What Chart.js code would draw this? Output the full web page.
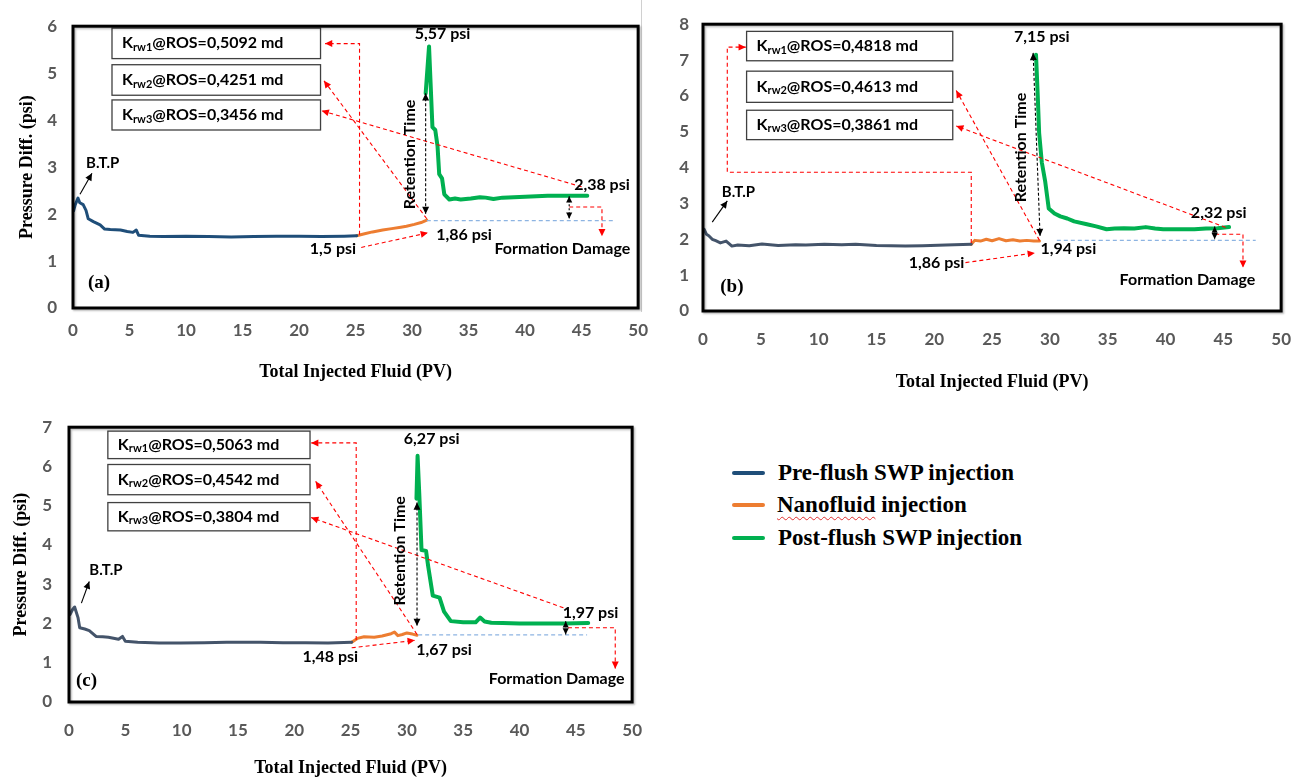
<!DOCTYPE html>
<html>
<head>
<meta charset="utf-8">
<script src="https://cdn.jsdelivr.net/npm/chart.js@4.4.1/dist/chart.umd.min.js"></script>
<style>
  body { margin: 0; background: #fff; width: 1309px; height: 779px; overflow: hidden; position: relative; }
  canvas { position: absolute; }
  .sw { position: absolute; left: 732px; width: 33px; height: 4px; border-radius: 2px; }
  .lt { position: absolute; left: 778px; font: bold 23px "Liberation Serif"; line-height: 24px; color: #000; white-space: nowrap; }
  .sq { text-decoration: underline wavy #e03030; text-decoration-thickness: 1px; text-underline-offset: 4px; }
  #sep { position: absolute; left: 641px; top: 0; width: 1px; height: 312px; background: #d0d0d0; }
</style>
</head>
<body>
<div id="sep"></div>
<canvas id="chartA" width="660" height="395" style="left:0;top:0"></canvas>
<canvas id="chartB" width="659" height="400" style="left:650px;top:0"></canvas>
<canvas id="chartC" width="660" height="379" style="left:0;top:400px"></canvas>

<div class="sw" style="top:471px;background:#1F4E79"></div>
<div class="lt" style="top:461px">Pre-flush SWP injection</div>
<div class="sw" style="top:503px;background:#ED7D31"></div>
<div class="lt" style="top:493px;left:777px"><span class="sq">Nanofluid</span> injection</div>
<div class="sw" style="top:536px;background:#00B050"></div>
<div class="lt" style="top:526px">Post-flush SWP injection</div>

<script>
// ----------------------------
// DATA  [PV, psi]
// ----------------------------
const preA = [[0.05,2.07],[0.2,2.2],[0.44,2.34],[0.6,2.24],[0.9,2.2],[1.15,2.08],[1.35,1.9],[1.8,1.84],[2.4,1.77],[2.8,1.68],[3.3,1.67],[4.2,1.66],[4.8,1.63],[5.3,1.61],[5.6,1.66],[5.8,1.55],[6.8,1.53],[8,1.52],[10,1.53],[12,1.52],[14,1.51],[16,1.52],[18,1.53],[20,1.53],[22,1.52],[24,1.53],[25.1,1.54]];
const nanoA = [[25.1,1.54],[25.8,1.58],[26.5,1.62],[27.4,1.66],[28.2,1.69],[29,1.72],[29.5,1.74],[30.2,1.78],[30.8,1.82],[31.3,1.87]];
const postA = [[31.2,4.57],[31.5,5.57],[31.8,3.85],[32.05,3.79],[32.25,3.45],[32.4,2.85],[32.65,2.76],[32.85,2.42],[33.3,2.31],[33.8,2.33],[34.3,2.31],[35.2,2.33],[36,2.36],[36.5,2.35],[37.2,2.32],[38,2.35],[39,2.36],[40,2.37],[41,2.38],[42,2.39],[43.5,2.39],[45.5,2.39]];

const preB = [[0.1,2.28],[0.3,2.14],[0.5,2.1],[0.8,2.0],[1.1,1.96],[1.5,1.9],[2.0,1.95],[2.5,1.81],[3,1.84],[4,1.82],[5.1,1.87],[6.5,1.83],[8,1.85],[8.9,1.84],[10.5,1.86],[12,1.85],[13.2,1.86],[15,1.83],[17.5,1.81],[19,1.82],[21,1.84],[23.2,1.86]];
const nanoB = [[23.2,1.86],[23.5,1.97],[24,1.95],[24.5,2.0],[25,1.96],[25.6,2.02],[26.2,1.96],[26.8,1.99],[27.4,1.95],[28,1.97],[28.6,1.95],[29.1,1.95]];
const postB = [[28.8,7.15],[28.95,6.0],[29.07,4.97],[29.3,4.15],[29.6,3.6],[29.9,2.86],[30.4,2.72],[30.9,2.64],[31.5,2.58],[32.1,2.5],[33.2,2.42],[34,2.36],[34.9,2.28],[35.6,2.3],[36.4,2.31],[37.3,2.3],[38.3,2.34],[39.1,2.3],[39.8,2.28],[41,2.28],[42.5,2.28],[43.5,2.3],[44.5,2.31],[45.5,2.34]];

const preC = [[0.1,2.23],[0.3,2.35],[0.5,2.42],[0.8,2.15],[0.95,1.89],[1.4,1.86],[1.8,1.82],[2.4,1.67],[3.0,1.66],[3.5,1.65],[4.4,1.6],[4.75,1.67],[5.0,1.55],[6.1,1.52],[8,1.5],[9.9,1.5],[12,1.51],[14,1.52],[17,1.52],[19,1.51],[21,1.51],[23,1.5],[25.1,1.52]];
const nanoC = [[25.1,1.52],[25.6,1.62],[26.2,1.66],[27.1,1.65],[27.8,1.68],[28.6,1.74],[28.9,1.78],[29.2,1.69],[29.6,1.72],[30.0,1.76],[30.5,1.73],[30.9,1.7]];
const postC = [[30.85,5.18],[30.95,6.27],[31.1,5.3],[31.3,3.87],[31.7,3.85],[31.9,3.44],[32.3,2.71],[32.9,2.66],[33.3,2.3],[33.9,2.06],[35,2.03],[36.1,2.03],[36.5,2.15],[36.9,2.05],[37.5,2.02],[38.5,2.01],[40,2.0],[42,2.0],[44,2.0],[46.1,2.01]];

const xTicks = { min: 0, max: 50, step: 5 };
const yMaxA = 6, yMaxB = 8, yMaxC = 7;

// ----------------------------
// ANNOTATIONS (data coordinates)
// ----------------------------
const notesA = {
  boxes: [
    { x0: 3.45, x1: 21.9, y0: 5.96, y1: 5.31, sub: "rw1", val: "0,5092" },
    { x0: 3.45, x1: 21.9, y0: 5.18, y1: 4.53, sub: "rw2", val: "0,4251" },
    { x0: 3.45, x1: 21.9, y0: 4.43, y1: 3.79, sub: "rw3", val: "0,3456" }
  ],
  red: [
    [[25.35,1.56],[25.35,5.63],[22.3,5.63]],
    [[31.3,1.9],[22.2,4.84]],
    [[45.0,2.58],[22.0,4.2]],
    [[25.5,1.29],[31.4,1.6]],
    [[43.9,2.15],[46.8,2.15],[46.8,1.53]]
  ],
  base: { y: 1.86, x0: 31.3, x1: 47.9 },
  ret: { x0: 31.2, y0: 4.57, x1: 31.2, y1: 2.0, tx: 29.8, ty: 3.27 },
  gap: { x: 43.9, y0: 2.38, y1: 1.9 },
  btp: { from: [0.62,2.42], to: [1.68,2.87], tx: 1.15, ty: 3.09 },
  tag: { text: "(a)", x: 2.3, y: 0.53 },
  labels: [["5,57 psi",32.7,5.84],["2,38 psi",46.8,2.62],["1,86 psi",34.6,1.56],["1,5 psi",23.0,1.25],["Formation Damage",43.3,1.25]]
};

const notesB = {
  boxes: [
    { x0: 3.77, x1: 21.6, y0: 7.8, y1: 6.98, sub: "rw1", val: "0,4818" },
    { x0: 3.77, x1: 21.6, y0: 6.69, y1: 5.82, sub: "rw2", val: "0,4613" },
    { x0: 3.77, x1: 21.6, y0: 5.6, y1: 4.78, sub: "rw3", val: "0,3861" }
  ],
  red: [
    [[23.2,1.9],[23.2,3.87],[2.1,3.87],[2.1,7.36],[3.7,7.36]],
    [[29.1,1.97],[21.9,6.15]],
    [[45.2,2.33],[21.9,5.16]],
    [[22.7,1.35],[28.7,1.62]],
    [[44.3,2.14],[46.7,2.14],[46.7,1.21]]
  ],
  base: { y: 1.97, x0: 30.6, x1: 47.8 },
  ret: { x0: 28.55, y0: 7.2, x1: 29.15, y1: 2.09, tx: 27.5, ty: 4.56 },
  gap: { x: 44.25, y0: 2.36, y1: 2.0 },
  btp: { from: [0.8,2.48], to: [2.1,3.07], tx: 1.63, ty: 3.32 },
  tag: { text: "(b)", x: 2.5, y: 0.66 },
  labels: [["7,15 psi",29.3,7.64],["2,32 psi",44.6,2.75],["1,94 psi",31.6,1.73],["1,86 psi",20.2,1.35],["Formation Damage",41.9,0.88]]
};

const notesC = {
  boxes: [
    { x0: 3.45, x1: 21.4, y0: 6.9, y1: 6.2, sub: "rw1", val: "0,5063" },
    { x0: 3.45, x1: 21.4, y0: 6.05, y1: 5.28, sub: "rw2", val: "0,4542" },
    { x0: 3.45, x1: 21.4, y0: 5.08, y1: 4.36, sub: "rw3", val: "0,3804" }
  ],
  red: [
    [[25.5,1.58],[25.5,6.6],[21.5,6.6]],
    [[30.9,1.72],[21.9,5.62]],
    [[43.9,2.4],[21.5,4.7]],
    [[25.1,1.38],[30.7,1.57]],
    [[44.3,1.89],[48.5,1.89],[48.5,0.85]]
  ],
  base: { y: 1.71, x0: 31.0, x1: 46.0 },
  ret: { x0: 30.9, y0: 5.08, x1: 30.9, y1: 1.94, tx: 29.4, ty: 3.85 },
  gap: { x: 44.1, y0: 2.06, y1: 1.72 },
  btp: { from: [1.1,2.52], to: [1.8,3.07], tx: 1.8, ty: 3.37 },
  tag: { text: "(c)", x: 1.55, y: 0.53 },
  labels: [["6,27 psi",32.2,6.7],["1,97 psi",46.3,2.28],["1,67 psi",33.3,1.33],["1,48 psi",23.2,1.14],["Formation Damage",43.3,0.6]]
};

// ----------------------------
// STYLE
// ----------------------------
const SANS = "Lato";
const tickFont = { family: SANS, size: 17, weight: "bold" };
const titleFont = { family: "Liberation Serif", size: 18, weight: "bold" };

// ----------------------------
// DRAW HELPERS
// ----------------------------
function arrowHead(ctx, x1, y1, x2, y2, size) {
  const a = Math.atan2(y2 - y1, x2 - x1);
  ctx.beginPath();
  ctx.moveTo(x2, y2);
  ctx.lineTo(x2 - size * Math.cos(a - 0.45), y2 - size * Math.sin(a - 0.45));
  ctx.lineTo(x2 - size * Math.cos(a + 0.45), y2 - size * Math.sin(a + 0.45));
  ctx.closePath();
  ctx.fill();
}

function kLabel(ctx, x, y, sub, val) {
  ctx.textAlign = "left";
  ctx.textBaseline = "middle";
  ctx.font = `bold 16px ${SANS}`;
  ctx.fillText("K", x, y);
  let w = ctx.measureText("K").width;
  ctx.font = `bold 11px ${SANS}`;
  ctx.fillText(sub, x + w, y + 4);
  w += ctx.measureText(sub).width;
  ctx.font = `bold 16px ${SANS}`;
  ctx.fillText("@ROS=" + val + " md", x + w, y);
}

function notesPlugin(n) {
  return {
    id: "notes",
    afterDatasetsDraw(chart) {
      const { ctx, chartArea: ca, scales } = chart;
      const px = v => scales.x.getPixelForValue(v);
      const py = v => scales.y.getPixelForValue(v);
      ctx.save();

      // baseline (light blue dashed)
      ctx.strokeStyle = "#8DB4E2";
      ctx.lineWidth = 1.2;
      ctx.setLineDash([4, 3]);
      ctx.beginPath();
      ctx.moveTo(px(n.base.x0), py(n.base.y));
      ctx.lineTo(px(n.base.x1), py(n.base.y));
      ctx.stroke();

      // K boxes
      ctx.setLineDash([]);
      n.boxes.forEach(b => {
        ctx.strokeStyle = "#404040";
        ctx.lineWidth = 1.3;
        const l = px(b.x0), t = py(b.y0), r = px(b.x1), bt = py(b.y1);
        ctx.fillStyle = "#fff";
        ctx.fillRect(l, t, r - l, bt - t);
        ctx.strokeRect(l, t, r - l, bt - t);
        ctx.fillStyle = "#000";
        kLabel(ctx, l + 10, (t + bt) / 2, b.sub, b.val);
      });

      // red dashed arrows
      ctx.strokeStyle = "#FF0000";
      ctx.fillStyle = "#FF0000";
      ctx.lineWidth = 1.1;
      n.red.forEach(path => {
        const pts = path.map(p => [px(p[0]), py(p[1])]);
        ctx.setLineDash([4, 3]);
        ctx.beginPath();
        pts.forEach((p, i) => i ? ctx.lineTo(p[0], p[1]) : ctx.moveTo(p[0], p[1]));
        ctx.stroke();
        ctx.setLineDash([]);
        const a = pts[pts.length - 2], b = pts[pts.length - 1];
        arrowHead(ctx, a[0], a[1], b[0], b[1], 8);
      });

      // retention time double arrow
      ctx.strokeStyle = "#000";
      ctx.fillStyle = "#000";
      ctx.lineWidth = 1.1;
      const r = n.ret;
      const rx0 = px(r.x0), ry0 = py(r.y0), rx1 = px(r.x1), ry1 = py(r.y1);
      ctx.setLineDash([3, 2]);
      ctx.beginPath();
      ctx.moveTo(rx0, ry0);
      ctx.lineTo(rx1, ry1);
      ctx.stroke();
      ctx.setLineDash([]);
      arrowHead(ctx, rx1, ry1, rx0, ry0, 8);
      arrowHead(ctx, rx0, ry0, rx1, ry1, 8);
      ctx.save();
      ctx.translate(px(r.tx), py(r.ty));
      ctx.rotate(-Math.PI / 2);
      ctx.font = `bold 16px ${SANS}`;
      ctx.textAlign = "center";
      ctx.textBaseline = "middle";
      ctx.fillText("Retention Time", 0, 0);
      ctx.restore();

      // damage gap arrow
      const gx = px(n.gap.x), gy0 = py(n.gap.y0), gy1 = py(n.gap.y1);
      ctx.setLineDash([2, 2]);
      ctx.beginPath();
      ctx.moveTo(gx, gy0);
      ctx.lineTo(gx, gy1);
      ctx.stroke();
      ctx.setLineDash([]);
      arrowHead(ctx, gx, gy1, gx, gy0, 7);
      arrowHead(ctx, gx, gy0, gx, gy1, 7);

      // B.T.P
      const f = n.btp;
      ctx.lineWidth = 1.1;
      ctx.beginPath();
      ctx.moveTo(px(f.from[0]), py(f.from[1]));
      ctx.lineTo(px(f.to[0]), py(f.to[1]));
      ctx.stroke();
      arrowHead(ctx, px(f.from[0]), py(f.from[1]), px(f.to[0]), py(f.to[1]), 8);
      ctx.font = `bold 15px ${SANS}`;
      ctx.textAlign = "left";
      ctx.textBaseline = "middle";
      ctx.fillText("B.T.P", px(f.tx), py(f.ty));

      // value labels
      ctx.font = `bold 16px ${SANS}`;
      ctx.textAlign = "center";
      n.labels.forEach(([t, x, y]) => ctx.fillText(t, px(x), py(y)));

      // panel tag
      ctx.font = "bold 19px 'Liberation Serif'";
      ctx.fillText(n.tag.text, px(n.tag.x), py(n.tag.y));

      // plot frame with a soft shadow
      ctx.shadowColor = "rgba(0,0,0,0.25)";
      ctx.shadowOffsetX = 1.5;
      ctx.shadowOffsetY = 1.5;
      ctx.shadowBlur = 2;
      ctx.strokeStyle = "#000";
      ctx.lineWidth = 3;
      ctx.strokeRect(ca.left, ca.top, ca.right - ca.left, ca.bottom - ca.top);
      ctx.restore();
    }
  };
}

// ----------------------------
// PANEL FACTORY
// ----------------------------
function series(data, color, width) {
  return {
    data,
    showLine: true,
    borderColor: color,
    borderWidth: width,
    pointRadius: 0,
    borderCapStyle: "round",
    borderJoinStyle: "round",
    tension: 0
  };
}

function makePanel(id, pre, nano, post, yMax, notes, lay) {
  return new Chart(document.getElementById(id), {
    type: "scatter",
    data: {
      datasets: [
        series(pre, lay.preColor, 3),
        series(nano, "#ED7D31", 3),
        series(post, "#00B050", 4)
      ]
    },
    options: {
      responsive: false,
      animation: false,
      events: [],
      layout: { padding: lay.pad },
      plugins: { legend: { display: false }, tooltip: { enabled: false } },
      scales: {
        x: {
          type: "linear",
          min: xTicks.min,
          max: xTicks.max,
          grid: { display: false, drawTicks: false },
          border: { display: false },
          ticks: { stepSize: xTicks.step, padding: lay.xTickPad, color: "#595959", font: tickFont, maxRotation: 0 },
          title: { display: true, text: "Total Injected Fluid (PV)", color: "#000", font: titleFont, padding: { top: 0, bottom: lay.xTitlePad } },
          afterFit: s => { s.height = lay.xH; }
        },
        y: {
          type: "linear",
          min: 0,
          max: yMax,
          grid: { display: false, drawTicks: false },
          border: { display: false },
          ticks: { stepSize: 1, padding: lay.yTickPad, color: "#595959", font: tickFont },
          title: { display: lay.yTitle, text: "Pressure Diff. (psi)", color: "#000", font: titleFont, padding: { top: lay.yTitlePad, bottom: 0 } },
          afterFit: s => { s.width = lay.yW; }
        }
      }
    },
    plugins: [notesPlugin(notes)]
  });
}

makePanel("chartA", preA, nanoA, postA, yMaxA, notesA, {
  preColor: "#1F4E79", pad: { top: 15, right: 21, left: 0, bottom: 0 },
  yW: 73, xH: 87, yTickPad: 16, xTickPad: 12, yTitle: true, yTitlePad: 17, xTitlePad: 12
});
makePanel("chartB", preB, nanoB, postB, yMaxB, notesB, {
  preColor: "#44546A", pad: { top: 20, right: 23, left: 0, bottom: 0 },
  yW: 53, xH: 89, yTickPad: 14, xTickPad: 18, yTitle: false, yTitlePad: 0, xTitlePad: 7
});
makePanel("chartC", preC, nanoC, postC, yMaxC, notesC, {
  preColor: "#44546A", pad: { top: 13, right: 12, left: 0, bottom: 0 },
  yW: 69, xH: 77, yTickPad: 17, xTickPad: 18, yTitle: true, yTitlePad: 11, xTitlePad: 0
});
</script>
</body>
</html>
